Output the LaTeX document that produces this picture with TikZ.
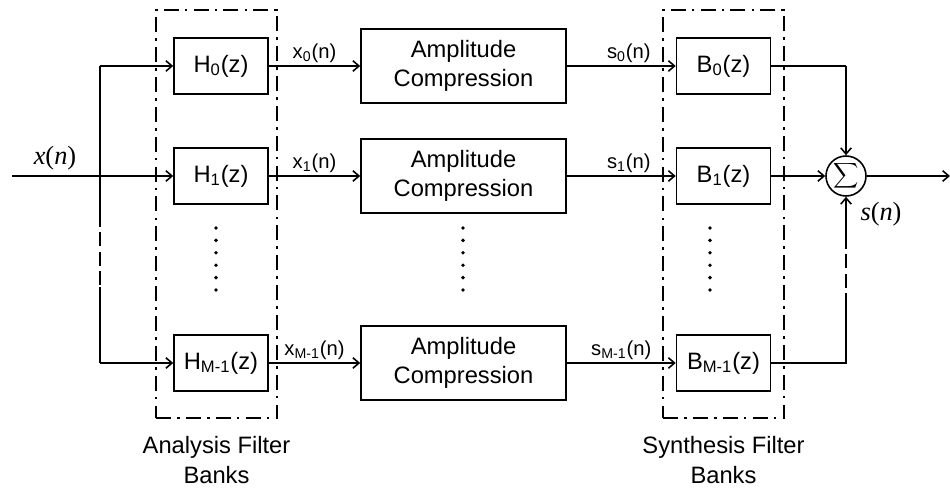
\documentclass[tikz,border=0pt]{standalone}
\usepackage{fontspec}
\setmainfont{Liberation Sans}
\newfontfamily\timesfont{Liberation Serif}
\usetikzlibrary{arrows.meta, positioning, calc}
\tikzset{
  filterbox/.style={
    draw, line width=0.9pt, inner sep=0pt,
    minimum width=1.88cm, minimum height=1.12cm,
    font=\fontsize{13.5}{16}\selectfont
  },
  compbox/.style={
    draw, line width=0.9pt, align=center,
    minimum width=4.1cm, minimum height=1.48cm,
    font=\fontsize{13.5}{16.5}\selectfont
  },
  bankframe/.style={
    draw, line width=1.6pt, inner sep=0pt,
    dash pattern=on 8.5pt off 3.5pt on 1.5pt off 3.5pt,
    minimum width=2.42cm, minimum height=8.16cm
  },
  banklabel/.style={
    align=center, font=\fontsize{13.5}{17}\selectfont
  },
  sumnode/.style={
    circle, draw, line width=0.9pt, inner sep=0pt, minimum size=0.8cm
  },
  sigline/.style={line width=0.9pt},
  sigarrow/.style={line width=0.9pt, -{Straight Barb[length=3.5pt,width=6pt]}},
  brokenline/.style={line width=0.9pt, dash pattern=on 8pt off 3pt},
  siglabel/.style={font=\fontsize{11.5}{13}\selectfont, inner sep=1.5pt},
  serifsig/.style={font=\timesfont\fontsize{15}{17}\selectfont},
}

\begin{document}
\begin{tikzpicture}
  \useasboundingbox (0, 0) rectangle (19, 9.84);

  % ── Filter bank frames ─────────────────────────────────────────
  \node[bankframe] (anaframe) at (4.33, 5.56) {};
  \node[bankframe] (synframe) at (14.47, 5.56) {};
  \node[banklabel, below=0.22cm of anaframe] (analabel)
    {Analysis Filter\\Banks};
  \node[banklabel, below=0.22cm of synframe] (synlabel)
    {Synthesis Filter\\Banks};

  % ── Analysis filters ───────────────────────────────────────────
  \node[filterbox] (hbox0) at (4.42, 8.52) {H\textsubscript{0}(z)};
  \node[filterbox] (hbox1) at (4.42, 6.32) {H\textsubscript{1}(z)};
  \node[filterbox] (hboxM) at (4.42, 2.58) {H\textsubscript{M-1}(z)};

  % ── Amplitude compression ──────────────────────────────────────
  \node[compbox] (amp0) at (9.27, 8.52) {Amplitude\\Compression};
  \node[compbox] (amp1) at (9.27, 6.32) {Amplitude\\Compression};
  \node[compbox] (ampM) at (9.27, 2.58) {Amplitude\\Compression};

  % ── Synthesis filters ──────────────────────────────────────────
  \node[filterbox] (bbox0) at (14.47, 8.52) {B\textsubscript{0}(z)};
  \node[filterbox] (bbox1) at (14.47, 6.32) {B\textsubscript{1}(z)};
  \node[filterbox] (bboxM) at (14.47, 2.58) {B\textsubscript{M-1}(z)};

  % ── Summation ──────────────────────────────────────────────────
  \node[sumnode] (sum) at (16.92, 6.32)
    {\fontsize{9}{9}\selectfont$\displaystyle\sum$};

  % ── Vertical ellipses ──────────────────────────────────────────
  \foreach \col in {4.32, 9.26, 14.2}
    \foreach \k in {0,...,5}
      \fill (\col, {5.28-0.248*\k}) circle (1.1pt);

  % ── Input and split ────────────────────────────────────────────
  \coordinate (xin) at (0.24, 6.32);
  \coordinate (splittop) at (2.0, 8.52);
  \coordinate (splitA) at (2.0, 5.58);
  \coordinate (splitB) at (2.0, 4.10);
  \coordinate (splitbot) at (2.0, 2.58);
  \draw[sigarrow] (xin) -- (hbox1);
  \node[serifsig] (xlabel) at (1.1, 6.68) {\itshape x\upshape(\itshape n\upshape)};
  \draw[sigline] (splittop) -- (splitA);
  \draw[brokenline] (splitA) -- (splitB);
  \draw[sigline] (splitB) -- (splitbot);
  \draw[sigarrow] (splittop) -- (hbox0);
  \draw[sigarrow] (splitbot) -- (hboxM);

  % ── Subband signals ────────────────────────────────────────────
  \draw[sigarrow] (hbox0) -- node[siglabel, above] {x\textsubscript{0}(n)} (amp0);
  \draw[sigarrow] (hbox1) -- node[siglabel, above] {x\textsubscript{1}(n)} (amp1);
  \draw[sigarrow] (hboxM) -- node[siglabel, above] {x\textsubscript{M-1}(n)} (ampM);
  \draw[sigarrow] (amp0) -- node[siglabel, above, pos=0.57] {s\textsubscript{0}(n)} (bbox0);
  \draw[sigarrow] (amp1) -- node[siglabel, above, pos=0.57] {s\textsubscript{1}(n)} (bbox1);
  \draw[sigarrow] (ampM) -- node[siglabel, above, pos=0.5] {s\textsubscript{M-1}(n)} (bboxM);

  % ── Merge and output ───────────────────────────────────────────
  \coordinate (mergetop) at (16.92, 8.52);
  \coordinate (mergeA) at (16.92, 5.10);
  \coordinate (mergeB) at (16.92, 3.70);
  \coordinate (mergebot) at (16.92, 2.58);
  \coordinate (sout) at (19.0, 6.32);
  \draw[sigline] (bbox0) -- (mergetop);
  \draw[sigarrow] (mergetop) -- (sum);
  \draw[sigarrow] (bbox1) -- (sum);
  \draw[sigline] (bboxM) -- (mergebot) -- (mergeB);
  \draw[brokenline] (mergeB) -- (mergeA);
  \draw[sigarrow] (mergeA) -- (sum);
  \draw[sigarrow] (sum) -- (sout);
  \node[serifsig] (slabel) at (17.62, 5.56) {\itshape s\upshape(\itshape n\upshape)};
\end{tikzpicture}
\end{document}
